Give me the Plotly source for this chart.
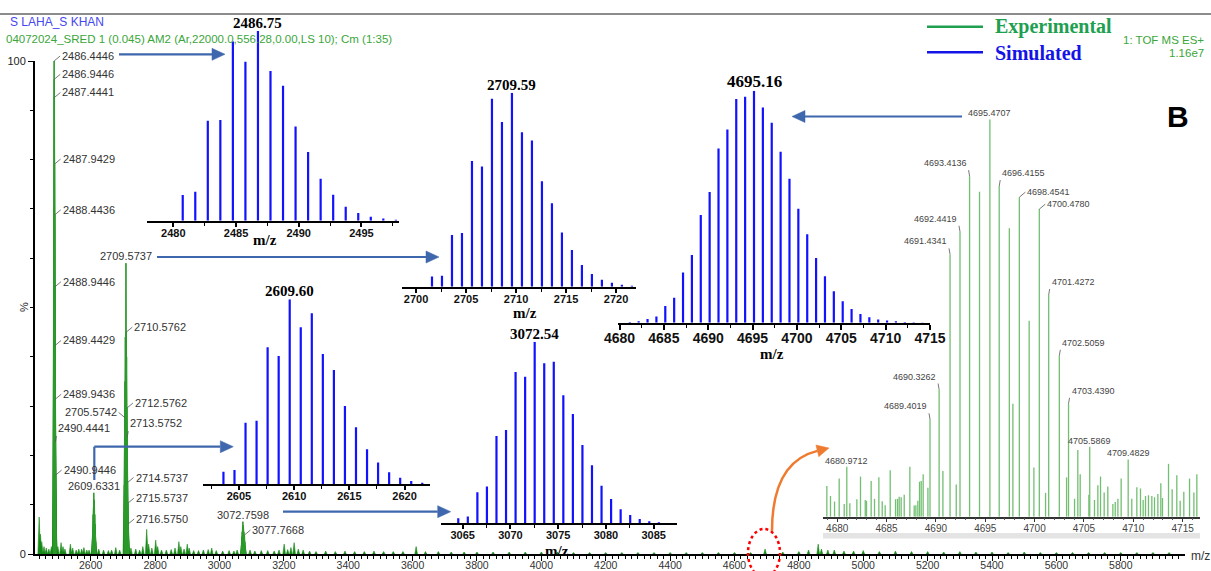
import math
import plotly.graph_objects as go

W, H = 1211, 571
SANS = "Liberation Sans, Arial, sans-serif"
SERIF = "Liberation Serif, Times New Roman, serif"

# ---------------- experimental spectrum, full m/z range ----------------
# isotope clusters: m/z and relative intensity (%)
cluster_mz = [
    2485.44, 2485.94, 2486.4446, 2486.9446, 2487.4441, 2487.9429, 2488.4436,
    2488.9446, 2489.4429, 2489.9436, 2490.4441, 2490.9446, 2491.44, 2491.94,
    2605.63, 2606.63, 2607.63, 2608.63, 2609.6331, 2610.63, 2611.63,
    2612.63, 2613.63, 2614.63, 2615.63,
    2704.57, 2705.5742, 2706.57, 2707.57, 2708.57, 2709.5737, 2710.5762,
    2711.57, 2712.5762, 2713.5752, 2714.5737, 2715.5737, 2716.5750, 2717.57,
    3068.76, 3069.76, 3070.76, 3071.76, 3072.7598, 3073.76, 3074.76,
    3075.76, 3076.76, 3077.7668, 3078.77, 3079.77,
]
cluster_int = [
    40, 70, 100, 96.3, 92.6, 79.1, 68.8,
    54.2, 42.3, 31.4, 22.7, 16.0, 9, 5,
    3, 5, 8, 9.5, 12.4, 11, 10.5,
    8, 6, 4, 2.5,
    14, 27.7, 35, 44, 44, 59.0, 45.0,
    40, 29.6, 23.7, 14.5, 10.3, 6.1, 3,
    2, 3.5, 4.5, 5.5, 6.55, 5.8, 5.2,
    4.5, 3.8, 3.85, 2.5, 1.5,
]

# minor peaks and baseline noise
minor_mz = [
    2440, 2444, 2448, 2455, 2462, 2470, 2478, 2498, 2508, 2514, 2520, 2537,
    2544, 2555, 2563, 2572, 2579, 2588, 2595, 2625, 2640, 2655, 2665, 2678,
    2690, 2725, 2740, 2752, 2762, 2774, 2780, 2790, 2802, 2808, 2820, 2835,
    2850, 2862, 2874, 2880, 2890, 2900, 2906, 2920, 2935, 2950, 2965, 2976,
    2990, 3010, 3030, 3045, 3055, 3095, 3110, 3130, 3150, 3170, 3185, 3201,
    3212, 3222, 3232, 3245, 3260, 3280, 3300, 3330, 3360, 3390, 3420, 3450,
    3480, 3510, 3540, 3570, 3611, 3640, 3680, 3720, 3760, 3800, 3850, 3900,
    3950, 4000, 4050, 4100, 4150, 4200, 4250, 4300, 4350, 4400, 4450, 4500,
    4550, 4600, 4650, 4695, 4750, 4800, 4830, 4860, 4870, 4890, 4910, 4940,
    4970, 5000, 5050, 5100, 5150, 5200, 5250, 5300, 5350, 5400, 5450, 5500,
    5550, 5600, 5650, 5700, 5750, 5800, 5850, 5900, 5950,
]
minor_int = [
    7.5, 4, 2.5, 1.5, 1.2, 1.0, 1.5, 1.5, 2.3, 1.5, 1.0, 2.0,
    1.2, 0.8, 1.0, 1.0, 1.3, 0.8, 0.8, 1.0, 0.8, 0.7, 0.8, 1.3,
    0.8, 1.2, 1.0, 0.8, 1.5, 5.0, 2.0, 1.2, 2.8, 1.5, 0.8, 0.8,
    0.9, 1.2, 2.5, 1.5, 1.0, 2.0, 1.2, 0.7, 0.7, 0.8, 0.9, 1.2,
    0.7, 0.6, 0.7, 0.6, 0.8, 0.8, 0.6, 0.7, 0.7, 0.6, 0.8, 2.0,
    0.9, 1.3, 2.3, 1.0, 0.8, 0.6, 0.5, 0.6, 0.5, 0.6, 0.5, 0.5,
    0.6, 0.5, 0.5, 0.5, 1.5, 0.5, 0.5, 0.4, 0.4, 0.4, 0.4, 0.4,
    0.4, 0.4, 0.4, 0.3, 0.3, 0.3, 0.3, 0.3, 0.3, 0.3, 0.3, 0.3,
    0.3, 0.3, 0.3, 1.0, 0.4, 0.5, 0.8, 2.0, 1.0, 0.8, 0.8, 0.6,
    0.6, 0.7, 0.5, 0.6, 0.5, 0.5, 0.4, 0.5, 0.4, 0.4, 0.3, 0.4,
    0.3, 0.3, 0.3, 0.3, 0.3, 0.3, 0.3, 0.3, 0.3,
]

# centroid labels printed on the full spectrum
main_labels = [
    2486.4446, 2486.9446, 2487.4441, 2487.9429, 2488.4436, 2488.9446,
    2489.4429, 2489.9436, 2490.4441, 2490.9446, 2609.6331, 2705.5742,
    2709.5737, 2710.5762, 2712.5762, 2713.5752, 2714.5737, 2715.5737,
    2716.5750, 3072.7598, 3077.7668,
]

# ---------------- expanded experimental cluster (4678-4717) ----------------
exp_mz = [
    4678.95, 4679.32, 4679.73, 4680.20, 4680.71, 4680.9712, 4681.28, 4681.99,
    4682.36, 4682.84, 4682.97, 4683.44, 4683.78, 4684.22, 4684.56, 4684.86,
    4685.37, 4685.91, 4686.11, 4686.28, 4686.48, 4686.79, 4687.36, 4687.80,
    4687.97, 4688.17, 4688.34, 4688.51, 4688.71, 4689.19, 4689.4019, 4690.3262,
    4690.71, 4691.4341, 4692.06, 4692.4419, 4693.4136, 4694.42, 4695.4707,
    4696.4155, 4697.44, 4697.80, 4698.4541, 4699.45, 4699.93, 4700.4780,
    4701.11, 4701.4272, 4702.5059, 4703.24, 4703.4390, 4704.05, 4704.38,
    4704.62, 4705.50, 4705.5869, 4706.07, 4706.41, 4706.68, 4707.05, 4707.42,
    4707.93, 4708.17, 4708.44, 4708.77, 4709.4829, 4709.85, 4710.36, 4710.73,
    4711.00, 4711.24, 4711.54, 4711.88, 4712.15, 4712.49, 4712.79, 4712.96,
    4713.57, 4713.94, 4714.41, 4714.75, 4715.12, 4715.70, 4716.14, 4716.44,
]
exp_int = [
    7.7, 5.2, 3.8, 9.6, 3.2, 12.6, 3.4, 4.4,
    10.1, 4.2, 4.0, 9.0, 4.5, 9.9, 3.9, 2.9,
    11.7, 4.4, 4.5, 5.0, 4.9, 5.5, 12.6, 2.8,
    2.9, 4.0, 8.8, 9.0, 10.7, 7.3, 24.5, 32.0,
    11.5, 66.0, 8.1, 71.7, 85.7, 81.8, 100,
    83.2, 72.6, 28.4, 80.4, 49.3, 12.4, 77.4,
    6.0, 55.8, 40.5, 9.9, 28.4, 4.5, 16.8,
    10.7, 5.5, 17.6, 4.2, 7.9, 10.1, 6.1, 7.6,
    3.2, 3.7, 4.5, 9.6, 14.4, 4.5, 7.4, 7.1,
    4.2, 5.2, 5.4, 5.2, 4.9, 5.7, 8.4, 4.7,
    13.3, 6.9, 10.4, 4.0, 6.3, 9.6, 6.1, 10.7,
]
exp_labels = [
    4680.9712, 4689.4019, 4690.3262, 4691.4341, 4692.4419, 4693.4136,
    4695.4707, 4696.4155, 4698.4541, 4700.4780, 4701.4272, 4702.5059,
    4703.4390, 4705.5869, 4709.4829,
]

# ---------------- simulated isotope patterns ----------------
sim1_mz = [2480.75, 2481.75, 2482.75, 2483.75, 2484.75, 2485.75, 2486.75, 2487.75, 2488.75,
           2489.75, 2490.75, 2491.75, 2492.75, 2493.75, 2494.75, 2495.75, 2496.75, 2497.75]
sim1_int = [13.5, 15.3, 52.7, 53.1, 94.4, 83.8, 100, 78.9, 71.2,
            49.6, 36.2, 22.1, 13.7, 7.4, 4.0, 2.1, 1.1, 0.5]

sim2_mz = [2701.59, 2702.59, 2703.59, 2704.59, 2705.59, 2706.59, 2707.59, 2708.59, 2709.59,
           2710.59, 2711.59, 2712.59, 2713.59, 2714.59, 2715.59, 2716.59, 2717.59, 2718.59,
           2719.59, 2720.59, 2721.59]
sim2_int = [5.2, 5.7, 26.6, 27.7, 64.8, 61.9, 96.9, 84.9, 100,
            79.6, 75.4, 54.3, 43.0, 28.0, 18.9, 11.2, 6.5, 3.6,
            2.1, 1.0, 0.5]

sim3_mz = [4681.16, 4682.16, 4683.16, 4684.16, 4685.16, 4686.16, 4687.16, 4688.16, 4689.16,
           4690.16, 4691.16, 4692.16, 4693.16, 4694.16, 4695.16, 4696.16, 4697.16, 4698.16,
           4699.16, 4700.16, 4701.16, 4702.16, 4703.16, 4704.16, 4705.16, 4706.16, 4707.16,
           4708.16, 4709.16, 4710.16, 4711.16, 4712.16, 4713.16, 4714.16]
sim3_int = [0.3, 0.6, 1.6, 2.7, 7.2, 10.8, 21.6, 29.2, 46.4,
            56.3, 75.1, 83.3, 96.4, 97.4, 100, 92.8, 86.2, 73.7,
            62.1, 49.1, 38.1, 27.9, 20.0, 13.6, 9.2, 5.9, 3.7,
            2.3, 1.4, 0.9, 0.6, 0.3, 0.15, 0.1]

sim4_mz = [2603.60, 2604.60, 2605.60, 2606.60, 2607.60, 2608.60, 2609.60, 2610.60, 2611.60,
           2612.60, 2613.60, 2614.60, 2615.60, 2616.60, 2617.60, 2618.60, 2619.60, 2620.60,
           2621.60]
sim4_int = [6.7, 7.6, 33.2, 34.3, 74.0, 69.3, 100, 84.8, 92.4,
            70.4, 61.7, 42.2, 30.7, 18.8, 11.6, 6.3, 3.4, 1.6,
            0.7]

sim5_mz = [3064.54, 3065.54, 3066.54, 3067.54, 3068.54, 3069.54, 3070.54, 3071.54, 3072.54,
           3073.54, 3074.54, 3075.54, 3076.54, 3077.54, 3078.54, 3079.54, 3080.54, 3081.54,
           3082.54, 3083.54, 3084.54, 3085.54, 3086.54]
sim5_int = [2.8, 3.7, 17.1, 20.2, 48.1, 51.4, 83.3, 80.7, 100,
            88.1, 89.0, 70.5, 60.2, 43.1, 31.9, 20.7, 13.4, 7.7,
            4.6, 2.4, 1.1, 0.6, 0.2]

# ---------------- colours ----------------
GREEN_FILL = "#178a17"
GREEN_STICK = "#2c9a2c"
GREEN_LIGHT = "#72bf72"
SIM_BLUE = "#1212ff"
ARROW_BLUE = "#3f67ad"
ORANGE = "#ee7b30"


def xdom(a, b):
    return [a / W, b / W]


def ydom(base, top):
    return [1 - base / H, 1 - top / H]


def P(x, y):
    return x / W, 1 - y / H


def sticks(mz, inten):
    xs, ys = [], []
    for m, v in zip(mz, inten):
        xs += [m, m, None]
        ys += [0, v, None]
    return xs, ys


def peaks_profile(mz, inten, hw):
    xs, ys = [], []
    for m, v in zip(mz, inten):
        xs += [m - hw, m, m + hw, None]
        ys += [0, v, 0, None]
    return xs, ys


fig = go.Figure()

# full spectrum as filled profile plus centroid sticks
px_, py_ = peaks_profile(cluster_mz + minor_mz, cluster_int + minor_int, 4.0)
fig.add_trace(go.Scatter(x=px_, y=py_, mode="lines", fill="toself", fillcolor=GREEN_FILL,
                         line=dict(color=GREEN_FILL, width=0.6), xaxis="x", yaxis="y",
                         hoverinfo="skip", showlegend=False))
sx, sy = sticks(cluster_mz, cluster_int)
fig.add_trace(go.Scatter(x=sx, y=sy, mode="lines", line=dict(color=GREEN_STICK, width=1.2),
                         xaxis="x", yaxis="y", hoverinfo="skip", showlegend=False, cliponaxis=False))

# simulated insets
sims = [(sim1_mz, sim1_int), (sim2_mz, sim2_int), (sim3_mz, sim3_int),
        (sim4_mz, sim4_int), (sim5_mz, sim5_int)]
for k, (mz, it) in enumerate(sims, start=2):
    sx, sy = sticks(mz, it)
    fig.add_trace(go.Scatter(x=sx, y=sy, mode="lines", line=dict(color=SIM_BLUE, width=2.2),
                             xaxis=f"x{k}", yaxis=f"y{k}", hoverinfo="skip",
                             showlegend=False, cliponaxis=False))

# expanded experimental cluster
sx, sy = sticks(exp_mz, exp_int)
fig.add_trace(go.Scatter(x=sx, y=sy, mode="lines", line=dict(color=GREEN_LIGHT, width=1.3),
                         xaxis="x7", yaxis="y7", hoverinfo="skip", showlegend=False,
                         cliponaxis=False))

layout = dict(template="none", width=W, height=H,
              margin=dict(l=0, r=0, t=0, b=0, pad=0, autoexpand=False),
              paper_bgcolor="white", plot_bgcolor="rgba(0,0,0,0)",
              showlegend=False, font=dict(family=SANS, color="#333"))

# main axes
layout["xaxis"] = dict(domain=xdom(35, 1185), range=[2427, 5999.5], anchor="y",
                       automargin=False,
                       showline=True, linecolor="black", linewidth=2, showgrid=False,
                       zeroline=False, ticks="outside", ticklen=5, tickwidth=1,
                       tickcolor="black", tick0=2600, dtick=200, tickformat="d",
                       ticklabelstandoff=-5,
                       tickfont=dict(family=SANS, size=10.5, color="#333"),
                       minor=dict(ticks="outside", ticklen=3, tick0=2600, dtick=20,
                                  tickcolor="black", tickwidth=1, showgrid=False))
layout["yaxis"] = dict(domain=ydom(554, 61), range=[0, 100], anchor="x",
                       automargin=False,
                       showline=True, linecolor="black", linewidth=2, showgrid=False,
                       zeroline=False, ticks="outside", ticklen=5, tickwidth=1,
                       tickcolor="black", tick0=0, dtick=100,
                       tickfont=dict(family=SANS, size=11, color="#222"),
                       minor=dict(ticks="outside", ticklen=3, tick0=0, dtick=10,
                                  tickcolor="black", tickwidth=1, showgrid=False))

# inset frames: pixel box of the x axis, m/z window, baseline/top pixel, tick start, font size
inset_frames = [
    dict(px=(147, 399), rng=(2477.9, 2498.0), base=220.7, top=31.0, t0=2480, fs=11),
    dict(px=(401.7, 636), rng=(2698.56, 2722.0), base=286.7, top=92.7, t0=2700, fs=11),
    dict(px=(618, 930), rng=(4679.83, 4715.0), base=322.7, top=90.7, t0=4680, fs=14),
    dict(px=(203, 430), rng=(2601.75, 2622.3), base=484.0, top=299.3, t0=2605, fs=11),
    dict(px=(440.7, 676.7), rng=(3062.7, 3087.41), base=523.3, top=341.7, t0=3065, fs=11),
]
for k, fr in enumerate(inset_frames, start=2):
    layout[f"xaxis{k}"] = dict(domain=xdom(*fr["px"]), range=list(fr["rng"]), anchor=f"y{k}",
                               automargin=False,
                               showline=True, linecolor="black", linewidth=1.6, showgrid=False,
                               zeroline=False, ticks="outside", ticklen=5 if fr["fs"] > 12 else 4,
                               tickwidth=1.5, tickcolor="black", tick0=fr["t0"], dtick=5,
                               tickformat="d", ticklabelstandoff=-3,
                               tickfont=dict(family=SANS, size=fr["fs"], color="#111", weight="bold"),
                               minor=dict(ticks="outside", ticklen=3, tick0=fr["t0"], dtick=2.5,
                                          tickcolor="black", tickwidth=1.2, showgrid=False))
    layout[f"yaxis{k}"] = dict(domain=ydom(fr["base"], fr["top"]), range=[0, 100],
                               anchor=f"x{k}", visible=False, automargin=False)

layout["xaxis7"] = dict(domain=xdom(823, 1200), range=[4678.56, 4716.76], anchor="y7",
                        automargin=False,
                        showline=True, linecolor="#333", linewidth=1.5, showgrid=False,
                        zeroline=False, ticks="outside", ticklen=4, tickwidth=1,
                        tickcolor="#333", tick0=4680, dtick=5, tickformat="d",
                        ticklabelstandoff=-2,
                        tickfont=dict(family=SANS, size=10, color="#444"),
                        minor=dict(ticks="outside", ticklen=2, tick0=4680, dtick=1,
                                   tickcolor="#555", tickwidth=1, showgrid=False))
layout["yaxis7"] = dict(domain=ydom(516.7, 119.3), range=[0, 100], anchor="x7",
                        visible=False, automargin=False)

annotations = []


def add_text(x, y, text, size, color, family=SANS, xanchor="center", yanchor="middle", angle=0):
    xx, yy = P(x, y)
    annotations.append(dict(x=xx, y=yy, xref="paper", yref="paper", text=text, showarrow=False,
                            xanchor=xanchor, yanchor=yanchor, textangle=angle,
                            font=dict(family=family, size=size, color=color)))


def peak_label(x, y, text, side, xr, yr, size, color):
    a = dict(x=x, y=y, xref=xr, yref=yr, text=text,
             font=dict(family=SANS, size=size, color=color))
    lead = dict(showarrow=True, arrowhead=0, arrowwidth=0.8, arrowcolor="#555")
    if side == "top":
        a.update(showarrow=False, xanchor="center", yanchor="bottom", yshift=-1)
    elif side == "right":
        a.update(lead, ax=6, ay=-5, xanchor="left", yanchor="middle")
    elif side == "left":
        a.update(lead, ax=-6, ay=-5, xanchor="right", yanchor="middle")
    elif side == "rise":
        a.update(lead, ax=1, ay=-6, xanchor="left", yanchor="bottom")
    elif side == "riseleft":
        a.update(lead, ax=-1, ay=-6, xanchor="right", yanchor="bottom")
    annotations.append(a)


main_lookup = dict(zip(cluster_mz, cluster_int))
main_side = {2609.6331: "top", 2709.5737: "top", 3072.7598: "top",
             2705.5742: "left", 2490.4441: "rise", 2713.5752: "rise"}
for m in main_labels:
    peak_label(m, main_lookup[m], f"{m:.4f}", main_side.get(m, "right"), "x", "y", 11, "#333")

exp_lookup = dict(zip(exp_mz, exp_int))
exp_side = {4695.4707: "top", 4705.5869: "top", 4709.4829: "top", 4680.9712: "top",
            4693.4136: "riseleft", 4692.4419: "riseleft", 4691.4341: "riseleft",
            4690.3262: "riseleft", 4689.4019: "riseleft",
            4696.4155: "rise", 4701.4272: "rise", 4702.5059: "rise", 4703.4390: "rise",
            4698.4541: "right", 4700.4780: "right"}
for m in exp_labels:
    peak_label(m, exp_lookup[m], f"{m:.4f}", exp_side[m], "x7", "y7", 9, "#444")

# simulated cluster titles (most abundant isotope)
for k, (mz, it) in enumerate(sims, start=2):
    top = mz[it.index(max(it))]
    annotations.append(dict(x=top, y=max(it), xref=f"x{k}", yref=f"y{k}", text=f"<b>{top:.2f}</b>",
                            showarrow=False, xanchor="center", yanchor="bottom", yshift=-2,
                            font=dict(family=SERIF, size=17 if k == 4 else 15, color="black")))

# m/z captions of the simulated insets
for (x, y) in [(265, 240), (525, 313), (771.7, 354), (556.7, 551)]:
    add_text(x, y, "<b>m/z</b>", 15, "black", family=SERIF)

# headers
add_text(8, 22.3, "S LAHA_S KHAN", 12, "#4646f0", xanchor="left")
add_text(4, 39, "04072024_SRED 1 (0.045) AM2 (Ar,22000.0,556.28,0.00,LS 10); Cm (1:35)",
         11.5, "#3aa63a", xanchor="left")
add_text(1206, 40, "1: TOF MS ES+", 11.5, "#3aa63a", xanchor="right")
add_text(1206, 53, "1.16e7", 11.5, "#3aa63a", xanchor="right")
add_text(993, 26.7, "<b>Experimental</b>", 20, "#1ea050", family=SERIF, xanchor="left")
add_text(993, 53, "<b>Simulated</b>", 20, "#1414e6", family=SERIF, xanchor="left")
add_text(1178, 116, "<b>B</b>", 30, "black")
add_text(23.5, 307.5, "%", 11, "#222", angle=-90)
add_text(1200, 556, "m/z", 12, "#333")

shapes = []


def seg(p0, p1, color, width, dash="solid"):
    x0, y0 = P(*p0)
    x1, y1 = P(*p1)
    shapes.append(dict(type="line", xref="paper", yref="paper", x0=x0, y0=y0, x1=x1, y1=y1,
                       line=dict(color=color, width=width, dash=dash)))


def head(tip, frm, color, L=13, hw=6):
    dx, dy = tip[0] - frm[0], tip[1] - frm[1]
    n = math.hypot(dx, dy)
    ux, uy = dx / n, dy / n
    bx, by = tip[0] - ux * L, tip[1] - uy * L
    p1 = (bx - uy * hw, by + ux * hw)
    p2 = (bx + uy * hw, by - ux * hw)
    pts = [P(*tip), P(*p1), P(*p2)]
    path = "M {},{} L {},{} L {},{} Z".format(*[c for p in pts for c in p])
    shapes.append(dict(type="path", xref="paper", yref="paper", path=path,
                       fillcolor=color, line=dict(color=color, width=0.5)))
    return (bx, by)


# header rule and legend keys
seg((0, 14), (W, 14), "#8c8c8c", 2)
seg((927, 26.7), (983, 26.7), "#1ea050", 2.5)
seg((927, 52.3), (983, 52.3), "#1414e6", 2.5)

# pointer arrows from experimental peaks to the simulated patterns
pointer_paths = [
    [(119, 54.3), (225, 54.3)],
    [(157, 257), (439, 257)],
    [(94.3, 480), (94.3, 446.7), (233.3, 446.7)],
    [(283, 511.7), (450.7, 511.7)],
    [(962, 116.5), (792, 116.5)],
]
for pts in pointer_paths:
    base = head(pts[-1], pts[-2], ARROW_BLUE)
    for a, b in zip(pts[:-2], pts[1:-1]):
        seg(a, b, ARROW_BLUE, 2.2)
    seg(pts[-2], base, ARROW_BLUE, 2.2)

# grey band below the expanded cluster
bx0, by0 = P(823, 538.5)
bx1, by1 = P(1200, 533)
shapes.append(dict(type="rect", xref="paper", yref="paper", x0=bx0, y0=by0, x1=bx1, y1=by1,
                   fillcolor="#e4e4e4", line=dict(width=0), layer="below"))

# dotted ring around the 4695 cluster and the curved pointer to its expansion
ex0, ey0 = P(748, 577)
ex1, ey1 = P(780, 529)
shapes.append(dict(type="circle", xref="paper", yref="paper", x0=ex0, y0=ey0, x1=ex1, y1=ey1,
                   line=dict(color="red", width=2.5, dash="dot")))
c_start, c_ctrl, c_tip = (772, 531), (772, 462), (829, 448)
c_base = head(c_tip, c_ctrl, ORANGE, L=12, hw=6)
q = [P(*c_start), P(*c_ctrl), P(*c_base)]
shapes.append(dict(type="path", xref="paper", yref="paper",
                   path="M {},{} Q {},{} {},{}".format(*[c for p in q for c in p]),
                   line=dict(color=ORANGE, width=2.5)))

layout["annotations"] = annotations
layout["shapes"] = shapes
fig.update_layout(layout)
fig.write_html("out.html")
